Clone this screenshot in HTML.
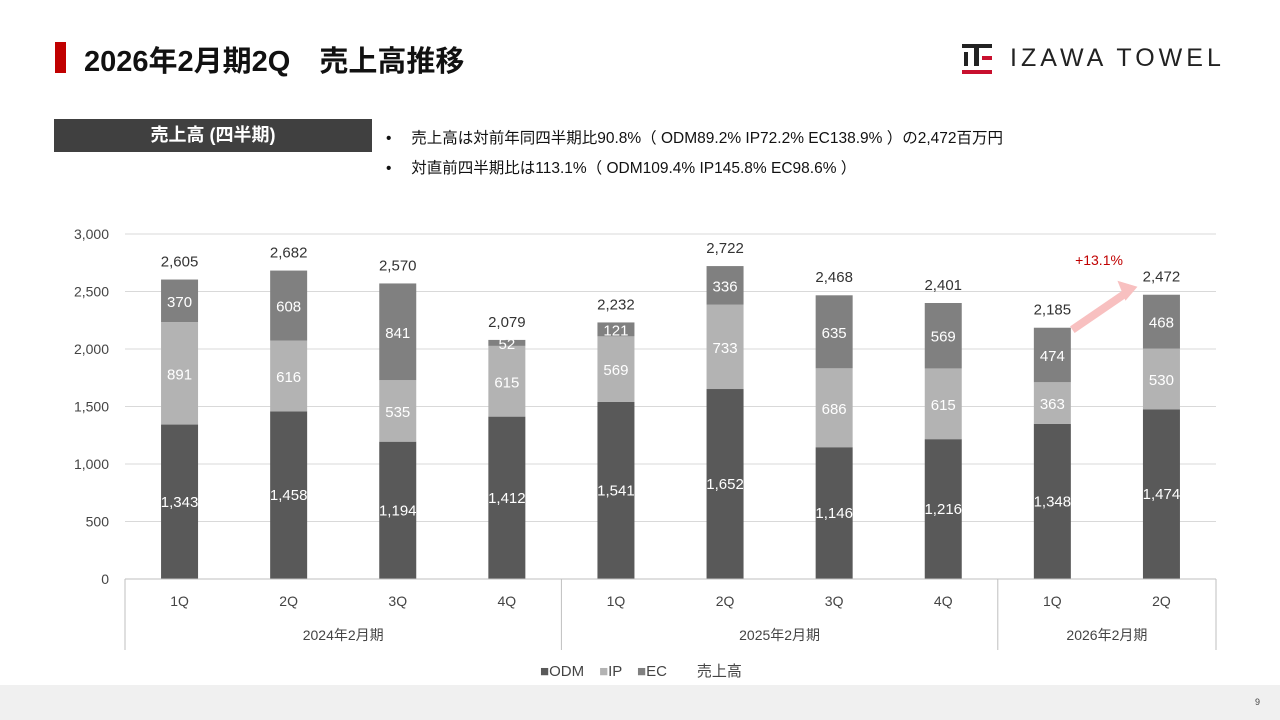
<!DOCTYPE html>
<html><head><meta charset="utf-8"><style>
body{margin:0;width:1280px;height:720px;position:relative;background:#fff;font-family:"Liberation Sans","Noto Sans CJK JP",sans-serif;overflow:hidden}
.a{position:absolute}
</style></head><body>
<div class="a" style="left:55px;top:42px;width:11px;height:31px;background:#c00000"></div>
<div class="a" style="left:84px;top:38px;font-size:29px;color:#111;font-weight:bold">2026年2月期2Q　売上高推移</div>
<div class="a" style="left:962px;top:44px;width:32px;height:30px">
 <div class="a" style="left:0;top:0;width:30px;height:4px;background:#222"></div>
 <div class="a" style="left:2px;top:8px;width:4px;height:14px;background:#222"></div>
 <div class="a" style="left:12px;top:4px;width:5px;height:18px;background:#222"></div>
 <div class="a" style="left:20px;top:12px;width:10px;height:4px;background:#c8102e"></div>
 <div class="a" style="left:0;top:26px;width:30px;height:4px;background:#c8102e"></div>
</div>
<div class="a" style="left:1010px;top:44px;font-size:25px;letter-spacing:4px;color:#222">IZAWA TOWEL</div>
<div class="a" style="left:54px;top:119px;width:318px;height:33px;background:#404040;color:#fff;font-size:18px;font-weight:bold;text-align:center;line-height:33px">売上高 (四半期)</div>
<div class="a" style="left:386px;top:126px;font-size:15.5px;color:#111">•　 売上高は対前年同四半期比90.8%（ ODM89.2% IP72.2% EC138.9% ）の2,472百万円</div>
<div class="a" style="left:386px;top:156px;font-size:15.5px;color:#111">•　 対直前四半期比は113.1%（ ODM109.4% IP145.8% EC98.6% ）</div>
<svg class="a" style="left:0;top:0" width="1280" height="720" id="chart"></svg>
<div class="a" style="left:0;top:685px;width:1280px;height:35px;background:#f0f0f0"></div>
<div class="a" style="left:1255px;top:697px;font-size:9px;color:#444">9</div>
<div class="a" style="left:540px;top:660px;font-size:15px;color:#444">
<span style="color:#595959">■</span>ODM　<span style="color:#b3b3b3">■</span>IP　<span style="color:#808080">■</span>EC　　売上高</div>
<script>
const quarters=["1Q","2Q","3Q","4Q","1Q","2Q","3Q","4Q","1Q","2Q"];
const years=["2024年2月期","2025年2月期","2026年2月期"];
const yearSpans=[4,4,2];
const odm=[1343,1458,1194,1412,1541,1652,1146,1216,1348,1474];
const ip=[891,616,535,615,569,733,686,615,363,530];
const ec=[370,608,841,52,121,336,635,569,474,468];
const totals=[2605,2682,2570,2079,2232,2722,2468,2401,2185,2472];
const yTicks=[0,500,1000,1500,2000,2500,3000];
const svg=document.getElementById('chart');const NS='http://www.w3.org/2000/svg';
const X0=125,X1=1216,Y0=579,Y1=234,YMAX=3000;
const bw=(X1-X0)/quarters.length;
const y=v=>Y0-(v/YMAX)*(Y0-Y1);
const xc=i=>X0+bw*(i+0.5);
function mk(t,a,txt){const e=document.createElementNS(NS,t);for(const k in a)e.setAttribute(k,a[k]);if(txt!=null)e.textContent=txt;svg.appendChild(e);return e;}
const fmt=v=>v.toLocaleString('en-US');
yTicks.forEach(v=>{
 const g=mk('line',{x1:X0,x2:X1,y1:y(v),y2:y(v),stroke:'#d9d9d9','stroke-width':1});
 
 
 const t=mk('text',{x:X0-16,y:y(v)+5,'text-anchor':'end','font-size':14,fill:'#444'},fmt(v));
 
 
});
const series=[[odm,'#595959'],[ip,'#b3b3b3'],[ec,'#808080']];
quarters.forEach((q,i)=>{
 let base=0;
 series.forEach(([arr,c],si)=>{
  const v=arr[i];
  const r=mk('rect',{x:xc(i)-18.5,width:37,y:y(base+v),height:y(base)-y(base+v),fill:c});
  
  
  const t=mk('text',{x:xc(i),y:y(base+v/2)+(si==0?5:6),'text-anchor':'middle','font-size':15,fill:'#fff'},fmt(v));
  
  
  base+=v;
 });
 const tt=mk('text',{x:xc(i),y:y(totals[i])-13,'text-anchor':'middle','font-size':15,fill:'#333'},fmt(totals[i]));
 
 
 const ql=mk('text',{x:xc(i),y:606,'text-anchor':'middle','font-size':14,fill:'#444'},q);
 
 
});
mk('line',{x1:X0,x2:X1,y1:Y0,y2:Y0,stroke:'#bfbfbf'});
let s=0;const bounds=[0];
yearSpans.forEach((n,k)=>{
 const yl=mk('text',{x:X0+bw*(s+n/2),y:640,'text-anchor':'middle','font-size':14,fill:'#444'},years[k]);
 
 
 s+=n;bounds.push(s);
});
bounds.forEach(b=>{const l=mk('line',{x1:X0+bw*b,x2:X0+bw*b,y1:Y0,y2:650,stroke:'#bfbfbf'});
 
 });
const i1=8,i2=9;
const ar=mk('path',{d:`M${xc(i1)+20},${y(totals[i1])+2} L${xc(i2)-35},${y(totals[i2])-2}`,stroke:'#f8c0c0','stroke-width':8,fill:'none'});


const ah=mk('polygon',{points:`${xc(i2)-24},${y(totals[i2])-8} ${xc(i2)-44},${y(totals[i2])-14} ${xc(i2)-36},${y(totals[i2])+6}`,fill:'#f8c0c0'});


const gl=mk('text',{x:1099,y:265,'text-anchor':'middle','font-size':14,fill:'#c00000'},'+13.1%');


</script>
</body></html>
